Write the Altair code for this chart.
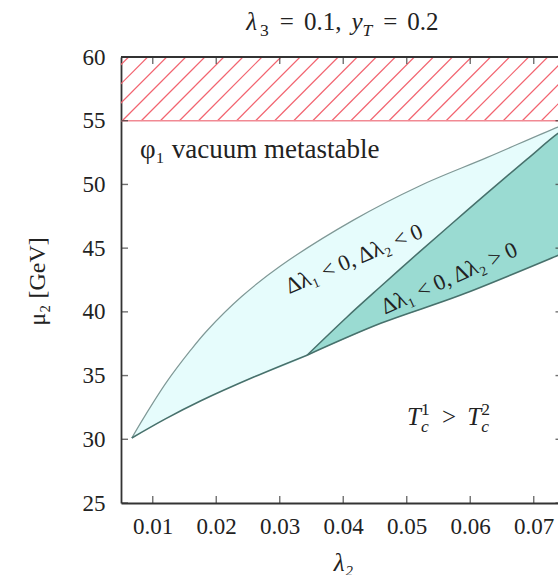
import altair as alt
import pandas as pd
import numpy as np

# ---------------- data ----------------
# upper boundary of the light region (lambda_2, mu_2)
upper_x = [0.0067, 0.0086, 0.0122, 0.0159, 0.0185, 0.0240, 0.0301, 0.0416, 0.0521, 0.0626, 0.0738, 0.0765]
upper_mu = [30.1, 31.7, 34.5, 36.95, 38.5, 41.2, 43.6, 47.2, 49.9, 52.1, 54.5, 55.0]
# lower boundary, left part (up to the kink)
lower_x = [0.0067, 0.0120, 0.0175, 0.0260, 0.0343]
lower_mu = [30.1, 31.6, 33.0, 34.9, 36.6]
# lower boundary, right part (below the dark region)
lower2_x = [0.0343, 0.0459, 0.0584, 0.0739, 0.0765]
lower2_mu = [36.6, 39.1, 41.3, 44.45, 45.0]
# boundary between light and dark regions
middle_x = [0.0343, 0.0406, 0.0458, 0.0521, 0.0574, 0.0626, 0.0690, 0.0738, 0.0765]
middle_mu = [36.6, 39.6, 41.95, 44.75, 47.05, 49.3, 52.0, 54.0, 54.85]

metastable_mu = [55, 60]
x_ticks = [0.01, 0.02, 0.03, 0.04, 0.05, 0.06, 0.07]
y_ticks = [25, 30, 35, 40, 45, 50, 55, 60]
x_domain = [0.005, 0.07382]
y_domain = [25, 60]

# ---------------- style ----------------
FONT = "Liberation Serif"
TXT = "#222222"
AX = "#333333"
LIGHT = "#e6fcfc"
DARK = "#9adbd2"
EDGE_UP = "#7f9896"
EDGE = "#47716c"
HATCH = "#f2636f"
W, H = 437, 446
INTERP = "catmull-rom"

XS = alt.Scale(domain=x_domain, nice=False, zero=False)
YS = alt.Scale(domain=y_domain, nice=False, zero=False)

x_axis = alt.Axis(values=x_ticks, format=".2f", ticks=False, tickSize=0, grid=False,
                  domainColor=AX, domainWidth=1.8, labelFont=FONT, labelFontSize=23,
                  labelColor=TXT, labelPadding=30, labelBaseline="alphabetic",
                  labelFlush=False, labelOverlap=False,
                  title="λ₂", titleFont=FONT, titleFontSize=25, titleFontWeight="normal",
                  titleFontStyle="italic", titleColor=TXT, titleX=222, titleY=67,
                  titleBaseline="alphabetic", titleAlign="center")
y_axis = alt.Axis(values=y_ticks, ticks=False, tickSize=0, grid=False,
                  domainColor=AX, domainWidth=1.8, labelFont=FONT, labelFontSize=23,
                  labelColor=TXT, labelPadding=16, labelBaseline="middle",
                  labelFlush=False, labelOverlap=False,
                  title="μ₂ [GeV]", titleFont=FONT, titleFontSize=24, titleFontWeight="normal",
                  titleColor=TXT, titleAngle=270, titleX=-84, titleY=224,
                  titleAlign="center", titleBaseline="middle")


def X(f):
    return alt.X(f, type="quantitative", scale=XS, axis=x_axis)


def Y(f):
    return alt.Y(f, type="quantitative", scale=YS, axis=y_axis)


layers = []

# hatched metastable band
hx0 = np.arange(x_domain[0] - 0.0118, x_domain[1] + 0.003, 0.003)
hatch = pd.DataFrame({"x": hx0, "x2": hx0 + 0.01,
                      "y": metastable_mu[0], "y2": metastable_mu[1]})
layers.append(alt.Chart(hatch).mark_rule(color=HATCH, strokeWidth=1.2, clip=True).encode(
    x=X("x"), x2="x2", y=Y("y"), y2="y2"))
layers.append(alt.Chart(pd.DataFrame({"y": [metastable_mu[0]]})).mark_rule(
    color="#f18a94", strokeWidth=1.5, clip=True).encode(y=Y("y")))

# polygons
light = pd.DataFrame({
    "x": upper_x + middle_x[::-1] + lower_x[::-1][1:],
    "y": upper_mu + middle_mu[::-1] + lower_mu[::-1][1:]})
light["o"] = range(len(light))
dark = pd.DataFrame({"x": middle_x + lower2_x[::-1][:-1],
                     "y": middle_mu + lower2_mu[::-1][:-1]})
dark["o"] = range(len(dark))

layers.append(alt.Chart(light).mark_line(fill=LIGHT, strokeWidth=0, clip=True,
                                         interpolate=INTERP).encode(
    x=X("x"), y=Y("y"), order="o:Q"))
layers.append(alt.Chart(dark).mark_line(fill=DARK, strokeWidth=0, clip=True,
                                        interpolate=INTERP).encode(
    x=X("x"), y=Y("y"), order="o:Q"))


# boundary lines
def curve(xs, ys, color, w):
    d = pd.DataFrame({"x": xs, "y": ys, "o": range(len(xs))})
    return alt.Chart(d).mark_line(color=color, strokeWidth=w, clip=True,
                                  interpolate=INTERP).encode(
        x=X("x"), y=Y("y"), order="o:Q")


layers.append(curve(upper_x, upper_mu, EDGE_UP, 1.2))
layers.append(curve(lower_x, lower_mu, EDGE, 1.6))
layers.append(curve(lower2_x, lower2_mu, EDGE, 1.6))
layers.append(curve(middle_x, middle_mu, EDGE, 1.5))

# inward ticks (clipped half ticks)
for yv in (y_domain[0], y_domain[1]):
    d = pd.DataFrame({"x": x_ticks, "y": yv})
    layers.append(alt.Chart(d).mark_tick(orient="vertical", size=14, thickness=1.4,
                                         color=AX, clip=True).encode(x=X("x"), y=Y("y")))
for xv, sz in ((x_domain[0], 14), (x_domain[1], 5)):
    d = pd.DataFrame({"x": xv, "y": y_ticks})
    layers.append(alt.Chart(d).mark_tick(orient="horizontal", size=sz, thickness=1.4,
                                         color=AX, clip=True).encode(x=X("x"), y=Y("y")))

# top frame line
layers.append(alt.Chart(pd.DataFrame({"y": [y_domain[1]]})).mark_rule(
    color=AX, strokeWidth=1.8).encode(y=Y("y")))

# ---------------- text ----------------
WID = {".": 0.25, ",": 0.25, "<": 0.564, ">": 0.564, "=": 0.564,
       "λ": 0.55, "y": 0.444, "T": 0.556, "c": 0.444}


def tw(s, size):
    return sum(WID.get(ch, 0.5) for ch in s) * size


def rich(pieces, x, y, size, center=False):
    ss = size * 0.7
    items = []
    off = 0.0
    for kind, txt in pieces:
        if kind == "gap":
            off += txt * size
        elif kind == "stack":
            sup_t, sub_t = txt
            items.append((sup_t, off, -0.40 * size, ss, "normal"))
            items.append((sub_t, off, 0.26 * size, ss, "italic"))
            off += max(tw(sup_t, ss), tw(sub_t, ss)) + 1
        elif kind == "sub":
            items.append((txt, off, 0.26 * size, ss, "normal"))
            off += tw(txt, ss) + 1
        elif kind == "isub":
            items.append((txt, off, 0.26 * size, ss, "italic"))
            off += tw(txt, ss) + 1
        elif kind == "i":
            items.append((txt, off, 0, size, "italic"))
            off += tw(txt, size)
        else:
            items.append((txt, off, 0, size, "normal"))
            off += tw(txt, size)
    shift = -off / 2 if center else 0
    anchor = pd.DataFrame({"x": [x], "y": [y]})
    out = []
    for t, o, dy, fs, st in items:
        out.append(alt.Chart(anchor).mark_text(
            text=t, dx=o + shift, dy=dy, fontSize=fs, fontStyle=st, font=FONT,
            align="left", baseline="alphabetic", color=TXT).encode(x=X("x"), y=Y("y")))
    return out


# title
layers += rich([("i", "λ"), ("sub", "3"), ("gap", 0.4), ("r", "="), ("gap", 0.4),
                ("r", "0.1,"), ("gap", 0.4), ("i", "y"), ("isub", "T"), ("gap", 0.4),
                ("r", "="), ("gap", 0.4), ("r", "0.2")], 0.03988, 62.12, 25, center=True)
# T_c^1 > T_c^2
layers += rich([("i", "T"), ("stack", ("1", "c")), ("gap", 0.45), ("r", ">"), ("gap", 0.45),
                ("i", "T"), ("stack", ("2", "c"))], 0.05004, 31.12, 25)

# phi_1 vacuum metastable
layers.append(alt.Chart(pd.DataFrame({"x": [0.00799], "y": [52.05]})).mark_text(
    text="φ₁ vacuum metastable", font=FONT, fontSize=27, color=TXT,
    align="left", baseline="alphabetic").encode(x=X("x"), y=Y("y")))

# rotated region labels
layers.append(alt.Chart(pd.DataFrame({"x": [0.04169], "y": [44.15]})).mark_text(
    text="Δλ₁ < 0, Δλ₂ < 0", font=FONT, fontSize=22.5, color=TXT, angle=337,
    align="center", baseline="middle").encode(x=X("x"), y=Y("y")))
layers.append(alt.Chart(pd.DataFrame({"x": [0.05669], "y": [42.63]})).mark_text(
    text="Δλ₁ < 0, Δλ₂ > 0", font=FONT, fontSize=22.5, color=TXT, angle=336,
    align="center", baseline="middle").encode(x=X("x"), y=Y("y")))

chart = alt.layer(*layers).properties(
    width=W, height=H,
    padding={"left": 121, "top": 57, "right": 0, "bottom": 72},
    autosize=alt.AutoSizeParams(type="none"),
    background="white",
).configure_view(stroke=None)

chart.save("out.html", embed_options={"renderer": "svg", "actions": False})
